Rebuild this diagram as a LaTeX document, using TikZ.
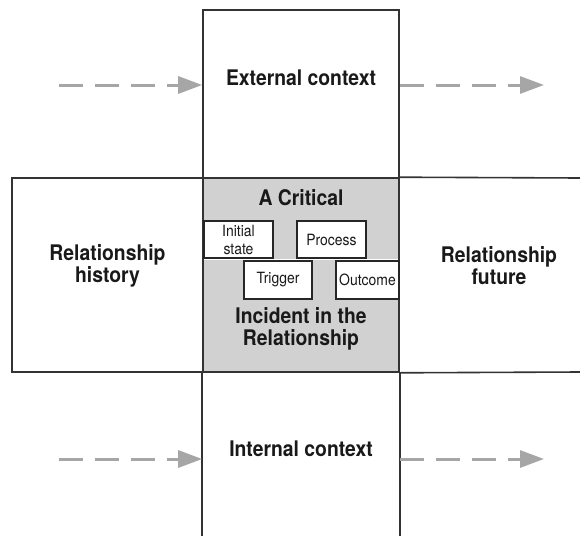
\documentclass[tikz,border=0pt]{standalone}
\usepackage{fontspec}
\setmainfont{TeX Gyre Heros}[FakeStretch=0.9]
\usetikzlibrary{arrows.meta}

\begin{document}
\begin{tikzpicture}[x=1pt, y=-1pt]
            \tikzset{frame/.style={draw=black!80, line width=1.6pt}}
            \tikzset{part/.style={draw=black!85, line width=1.3pt, fill=white, inner sep=0pt,
                font=\fontsize{15.5}{18}\selectfont, text=black!90, align=center}}
            \tikzset{flow/.style={draw=black!35, line width=3pt, dash pattern=on 24pt off 12pt,
                -{Triangle[length=24pt, width=17pt]}}}
            \tikzset{title/.style={font=\fontsize{21.5}{22}\selectfont\bfseries, text=black!90, align=center}}
            \useasboundingbox (0,0) rectangle (580,535);
            \node[frame, minimum width=196, minimum height=168] (ext) at (301,94) {};
            \node[frame, minimum width=191, minimum height=194] (hist) at (107.5,275) {};
            \node[frame, fill=black!18, minimum width=196, minimum height=194] (inc) at (301,275) {};
            \draw[frame] (inc.north east) -- (580,178);
            \draw[frame] (inc.south east) -- (580,372);
            \draw[frame] (inc.south west) -- ++(0,163);
            \draw[frame] (inc.south east) -- ++(0,163);
            \draw[white, line width=1.2pt] (204,259.5) -- (398,259.5);
            \node[part, minimum width=69, minimum height=37] (init) at (238.5,239.5) {Initial\\state};
            \node[part, minimum width=69, minimum height=37] (proc) at (331.5,239.5) {Process};
            \node[part, minimum width=68, minimum height=38] (trig) at (278,280) {Trigger};
            \node[part, minimum width=63, minimum height=38] (outc) at (367.5,280) {Outcome};
            \node[title] (extlabel) at (301,78) {External context};
            \node[title] (intlabel) at (301,449) {Internal context};
            \node[title] (histlabel) at (107.5,266) {Relationship\\history};
            \node[title] (futlabel) at (499,266) {Relationship\\future};
            \node[title] (critlabel) at (301,198) {A Critical};
            \node[title] (inclabel) at (301,329) {Incident in the\\Relationship};
            \coordinate (extin) at (59,85);
            \coordinate (extout) at (544,85);
            \coordinate (intin) at (59,459);
            \coordinate (intout) at (544,459);
            \draw[flow] (extin) -- (extin -| ext.west);
            \draw[flow] (extout -| ext.east) -- (extout);
            \draw[flow] (intin) -- (intin -| inc.west);
            \draw[flow] (intout -| inc.east) -- (intout);
        \end{tikzpicture}
\end{document}
